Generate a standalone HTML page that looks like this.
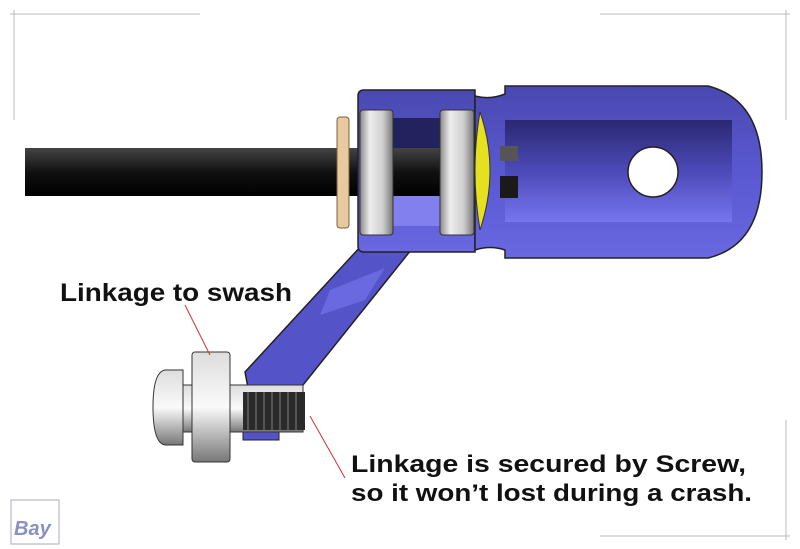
<!DOCTYPE html>
<html><head><style>
body{margin:0;background:#fff}
svg{display:block}
text{font-family:"Liberation Sans",sans-serif;font-weight:bold;fill:#111}
</style></head><body>
<svg width="800" height="549" viewBox="0 0 800 549">
<defs>
<linearGradient id="rod" x1="0" y1="0" x2="0" y2="1"><stop offset="0" stop-color="#444"/><stop offset=".5" stop-color="#111"/><stop offset="1" stop-color="#000"/></linearGradient>
<linearGradient id="sil" x1="0" y1="0" x2="1" y2="0"><stop offset="0" stop-color="#888"/><stop offset=".3" stop-color="#eee"/><stop offset=".7" stop-color="#ccc"/><stop offset="1" stop-color="#777"/></linearGradient>
<linearGradient id="silv" x1="0" y1="0" x2="0" y2="1"><stop offset="0" stop-color="#ddd"/><stop offset=".5" stop-color="#fafafa"/><stop offset="1" stop-color="#777"/></linearGradient>
<linearGradient id="pur" x1="0" y1="0" x2="0" y2="1"><stop offset="0" stop-color="#4a48b0"/><stop offset=".5" stop-color="#5a58d0"/><stop offset="1" stop-color="#6a68e0"/></linearGradient>
<linearGradient id="pin" x1="0" y1="0" x2="0" y2="1"><stop offset="0" stop-color="#2a2870"/><stop offset=".5" stop-color="#4c4ab8"/><stop offset="1" stop-color="#7775ee"/></linearGradient>
</defs>
<g stroke="#bbb" stroke-width="1" fill="none">
<line x1="10" y1="14" x2="200" y2="14"/><line x1="14" y1="10" x2="14" y2="120"/>
<line x1="600" y1="14" x2="790" y2="14"/><line x1="786" y1="10" x2="786" y2="120"/>
<line x1="786" y1="420" x2="786" y2="540"/><line x1="600" y1="536" x2="790" y2="536"/>
</g>
<rect x="25" y="148" width="340" height="48" fill="url(#rod)"/>
<polygon points="362,245 415,245 295,395 250,398 245,372" fill="#5553c8" stroke="#222" stroke-width="1.5"/>
<polygon points="330,290 385,268 365,300 320,315" fill="#6b69e0"/>
<rect x="243" y="422" width="36" height="18" fill="#5553c8" stroke="#222"/>
<path d="M358,96 Q358,90 364,90 L475,90 L475,252 L364,252 Q358,252 358,246 Z" fill="url(#pur)" stroke="#222" stroke-width="1.5"/>
<path d="M475,96 Q490,100 505,94 L505,86 L708,86 Q762,100 762,172 Q762,245 708,258 L505,258 L505,250 Q490,245 475,250 Z" fill="url(#pur)" stroke="#222" stroke-width="1.5"/>
<path d="M505,120 L732,120 L732,222 L505,222 Z" fill="url(#pin)"/>
<circle cx="653" cy="172" r="25" fill="#fff" stroke="#222" stroke-width="1.5"/>
<rect x="392" y="118" width="48" height="30" fill="#23215e"/>
<rect x="392" y="196" width="48" height="30" fill="#8280ee"/>
<rect x="392" y="148" width="50" height="48" fill="url(#rod)"/>
<rect x="337" y="117" width="12" height="111" rx="3" fill="#e8c9a0" stroke="#7a6040"/>
<rect x="360" y="110" width="33" height="125" rx="3" fill="url(#sil)" stroke="#333"/>
<rect x="440" y="110" width="34" height="125" rx="3" fill="url(#sil)" stroke="#333"/>
<path d="M480,112 Q500,170 480,230 Q470,170 480,112 Z" fill="#e5e020" stroke="#333"/>
<rect x="500" y="146" width="18" height="15" fill="#555"/>
<rect x="500" y="176" width="18" height="22" fill="#1a1a1a"/>
<rect x="183" y="385" width="120" height="47" fill="url(#silv)" stroke="#333"/>
<rect x="243" y="392" width="62" height="38" fill="#2a2a2a"/>
<g stroke="#555" stroke-width="2"><line x1="248" y1="392" x2="248" y2="430"/><line x1="256" y1="392" x2="256" y2="430"/><line x1="264" y1="392" x2="264" y2="430"/><line x1="272" y1="392" x2="272" y2="430"/><line x1="280" y1="392" x2="280" y2="430"/><line x1="288" y1="392" x2="288" y2="430"/><line x1="296" y1="392" x2="296" y2="430"/></g>
<path d="M183,370 L165,370 Q153,372 153,407 Q153,443 165,445 L183,445 Z" fill="url(#silv)" stroke="#333"/>
<rect x="192" y="352" width="38" height="110" rx="3" fill="url(#silv)" stroke="#333"/>
<line x1="185" y1="305" x2="210" y2="355" stroke="#c33" stroke-width="1"/>
<line x1="310" y1="416" x2="345" y2="478" stroke="#c33" stroke-width="1"/>
<text x="60" y="301" font-size="25" textLength="232" lengthAdjust="spacingAndGlyphs">Linkage to swash</text>
<text x="351" y="472" font-size="24" textLength="395" lengthAdjust="spacingAndGlyphs">Linkage is secured by Screw,</text>
<text x="351" y="501" font-size="24" textLength="401" lengthAdjust="spacingAndGlyphs">so it won’t lost during a crash.</text>
<rect x="11" y="500" width="48" height="44" fill="none" stroke="#aab" stroke-width="1"/>
<text x="14" y="535" font-size="20" font-style="italic" style="fill:#8a90c0">Bay</text>
</svg>
</body></html>
